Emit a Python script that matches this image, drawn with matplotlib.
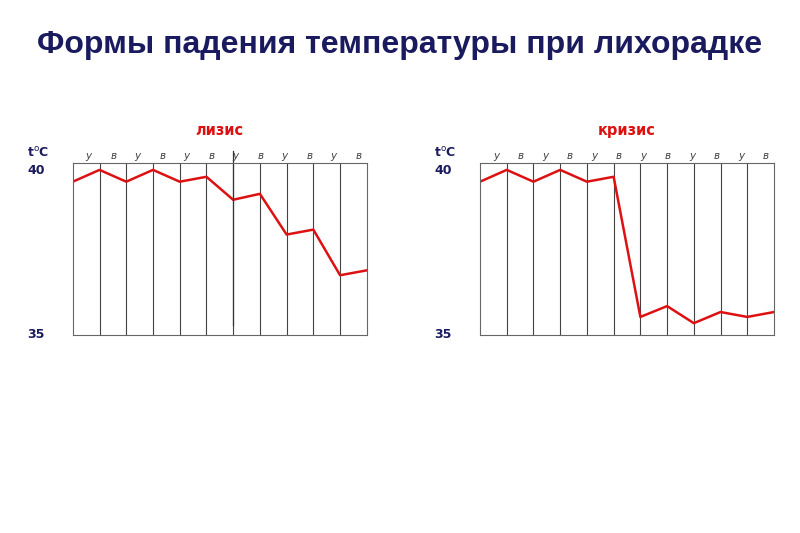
import matplotlib
matplotlib.use("Agg")
import matplotlib.pyplot as plt

labels = ["у", "в", "у", "в", "у", "в", "у", "в", "у", "в", "у", "в"]
lysis = [39.67, 40.03, 39.67, 40.03, 39.67, 39.82, 39.12, 39.3, 38.06, 38.21, 36.82, 36.97]
crisis = [39.67, 40.03, 39.67, 40.03, 39.67, 39.82, 35.55, 35.88, 35.36, 35.7, 35.55, 35.7]
titles = ["лизис", "кризис"]
navy = "#1a1a5e"

fig = plt.figure(figsize=(8, 5.33), dpi=100)
fig.text(0.5, 0.915, "Формы падения температуры при лихорадке", ha="center", va="center",
         fontsize=23, fontweight="bold", color=navy, family="Liberation Sans")

for i, (data, t) in enumerate(zip([lysis, crisis], titles)):
    left = 0.091 if i == 0 else 0.6
    ax = fig.add_axes([left, 0.3715, 0.3675, 0.3227])
    n = len(data)
    ax.set_xlim(0, n - 1)
    ax.set_ylim(35, 40.24)
    for x in range(1, n - 1):
        ax.axvline(x, color="#444444", lw=0.8)
    for s in ax.spines.values():
        s.set_color("#666666"); s.set_linewidth(0.8)
    ax.plot(range(n), data, color="#dd1111", lw=1.8)
    if i == 0:
        ax.plot([6, 6], [35.3, 40.6], color="#333333", lw=0.9, clip_on=False)
    ax.set_xticks([]); ax.set_yticks([])
    for k, lab in enumerate(labels):
        ax.text((k + 0.65) * (n - 1) / n, 40.45, lab, ha="center", va="center",
                fontsize=7.5, style="italic", color="#444444", transform=ax.transData)
    ax.text(0.5, 1.19, t, transform=ax.transAxes, ha="center", va="center",
            fontsize=10.5, fontweight="bold", color="#dd1111")
    ax.text(-0.155, 40.55, "t$^{\\mathrm{o}}$C", ha="left", va="center", fontsize=9,
            fontweight="bold", color=navy, transform=ax.get_yaxis_transform())
    ax.text(-0.155, 40.0, "40", ha="left", va="center", fontsize=9,
            fontweight="bold", color=navy, transform=ax.get_yaxis_transform())
    ax.text(-0.155, 35.0, "35", ha="left", va="center", fontsize=9,
            fontweight="bold", color=navy, transform=ax.get_yaxis_transform())

fig.savefig("out.png", dpi=100)
